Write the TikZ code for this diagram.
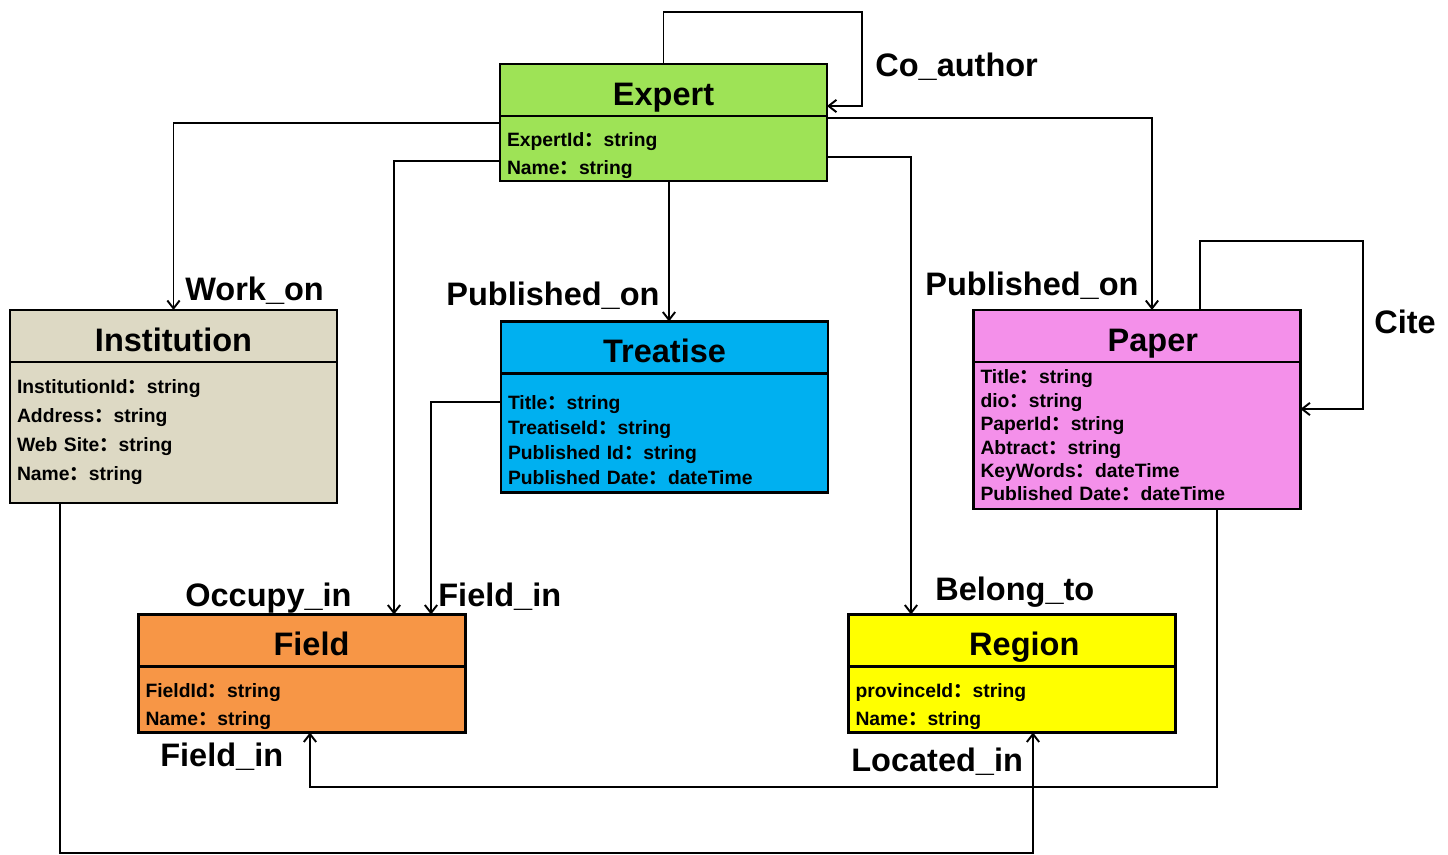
\documentclass[tikz,border=0pt]{standalone}
\usepackage{fontspec}
\setmainfont{Liberation Sans}
\newfontfamily\cjk{Noto Sans CJK SC}
\usepackage{tikz}
\usetikzlibrary{positioning,arrows.meta}

\newcommand{\fcolon}{{\cjk ：}}
\definecolor{expertgreen}{RGB}{158,227,86}
\definecolor{institutionbeige}{RGB}{221,217,196}
\definecolor{treatiseblue}{RGB}{0,176,240}
\definecolor{paperpink}{RGB}{244,144,234}
\definecolor{fieldorange}{RGB}{247,150,70}
\definecolor{regionyellow}{RGB}{255,255,0}

\begin{document}
\begin{tikzpicture}[
    x=0.02cm, y=-0.02cm,
    entity/.style={rectangle, draw, line width=1.6pt, outer sep=0pt, inner sep=0pt, minimum width=6.54cm, text height=23.4pt, text depth=6.2pt, font=\fontsize{18.5}{20}\selectfont\bfseries},
    attrs/.style={rectangle, draw, line width=1.6pt, outer sep=0pt, inner xsep=0.14cm, inner ysep=0pt, text width=6.26cm, align=left, font=\fontsize{11}{#1}\selectfont\bfseries},
    lowered/.style={execute at begin node=\rule{0pt}{16pt}},
    link/.style={-{Straight Barb[length=4.5pt,width=7pt]}, line width=1.1pt},
    lbl/.style={inner sep=0pt, font=\fontsize{18.5}{20}\selectfont\bfseries}
]
\useasboundingbox (0,0) rectangle (1448,855);

% Entidades
\node[entity, fill=expertgreen] (expert) at (663.5,90) {Expert};
\node[attrs=15.4pt, lowered, fill=expertgreen, minimum height=1.3cm, below=0pt of expert] (expertattr)
    {ExpertId\fcolon string\\Name\fcolon string};

\node[entity, fill=institutionbeige] (institution) at (173.5,336) {Institution};
\node[attrs=16.5pt, fill=institutionbeige, minimum height=2.82cm, below=0pt of institution] (institutionattr)
    {InstitutionId\fcolon string\\Address\fcolon string\\Web Site\fcolon string\\Name\fcolon string};

\node[entity, fill=treatiseblue] (treatise) at (664.5,347.5) {Treatise};
\node[attrs=14.4pt, lowered, fill=treatiseblue, minimum height=2.38cm, below=0pt of treatise] (treatiseattr)
    {Title\fcolon string\\TreatiseId\fcolon string\\Published Id\fcolon string\\Published Date\fcolon dateTime};

\node[entity, fill=paperpink] (paper) at (1137,336) {\hspace{18pt}Paper};
\node[attrs=13.3pt, fill=paperpink, minimum height=2.94cm, below=0pt of paper] (paperattr)
    {Title\fcolon string\\dio\fcolon string\\PaperId\fcolon string\\Abtract\fcolon string\\KeyWords\fcolon dateTime\\Published Date\fcolon dateTime};

\node[entity, fill=fieldorange] (field) at (302,640.5) {\hspace{10.8pt}Field};
\node[attrs=15.4pt, lowered, fill=fieldorange, minimum height=1.32cm, below=0pt of field] (fieldattr)
    {FieldId\fcolon string\\Name\fcolon string};

\node[entity, fill=regionyellow] (region) at (1012,640.5) {\hspace{14pt}Region};
\node[attrs=15.4pt, lowered, fill=regionyellow, minimum height=1.32cm, below=0pt of region] (regionattr)
    {provinceId\fcolon string\\Name\fcolon string};

% Relaciones
\draw[link] (expert.north) |- (862,12) |- (expert.east |- 0,106);
\draw[link] (expertattr.west |- 0,123) -| (institution.north);
\draw[link] (expertattr.west |- 0,161) -| (field.north -| 394,0);
\draw[link] (expertattr.south -| 669,0) -- (treatise.north -| 669,0);
\draw[link] (expertattr.east |- 0,118) -| (paper.north -| 1152,0);
\draw[link] (expertattr.east |- 0,157) -| (region.north -| 911,0);
\draw[link] (treatiseattr.west |- 0,402) -| (field.north -| 431,0);
\draw[link] (paper.north -| 1200,0) |- (1363,241) |- (paperattr.east |- 0,409);
\draw[link] (paperattr.south -| 1217,0) |- (310,787) -- (fieldattr.south -| 310,0);
\draw[link] (institutionattr.south -| 60,0) |- (1033,853) -- (regionattr.south -| 1033,0);

% Etiquetas
\node[lbl, anchor=base west] (coauthorlbl) at (875,77) {Co\_author};
\node[lbl, anchor=base west] (workonlbl) at (185,300) {Work\_on};
\node[lbl, anchor=base west] (pubtreatiselbl) at (446,305) {Published\_on};
\node[lbl, anchor=base west] (pubpaperlbl) at (925,296) {Published\_on};
\node[lbl, anchor=base west] (citelbl) at (1374,333) {Cite};
\node[lbl, anchor=base west] (occupylbl) at (185,606) {Occupy\_in};
\node[lbl, anchor=base west] (fieldinlbl) at (438,606) {Field\_in};
\node[lbl, anchor=base west] (belonglbl) at (935,600) {Belong\_to};
\node[lbl, anchor=base west] (paperfieldlbl) at (160,766) {Field\_in};
\node[lbl, anchor=base west] (locatedlbl) at (851,771) {Located\_in};

\end{tikzpicture}
\end{document}
